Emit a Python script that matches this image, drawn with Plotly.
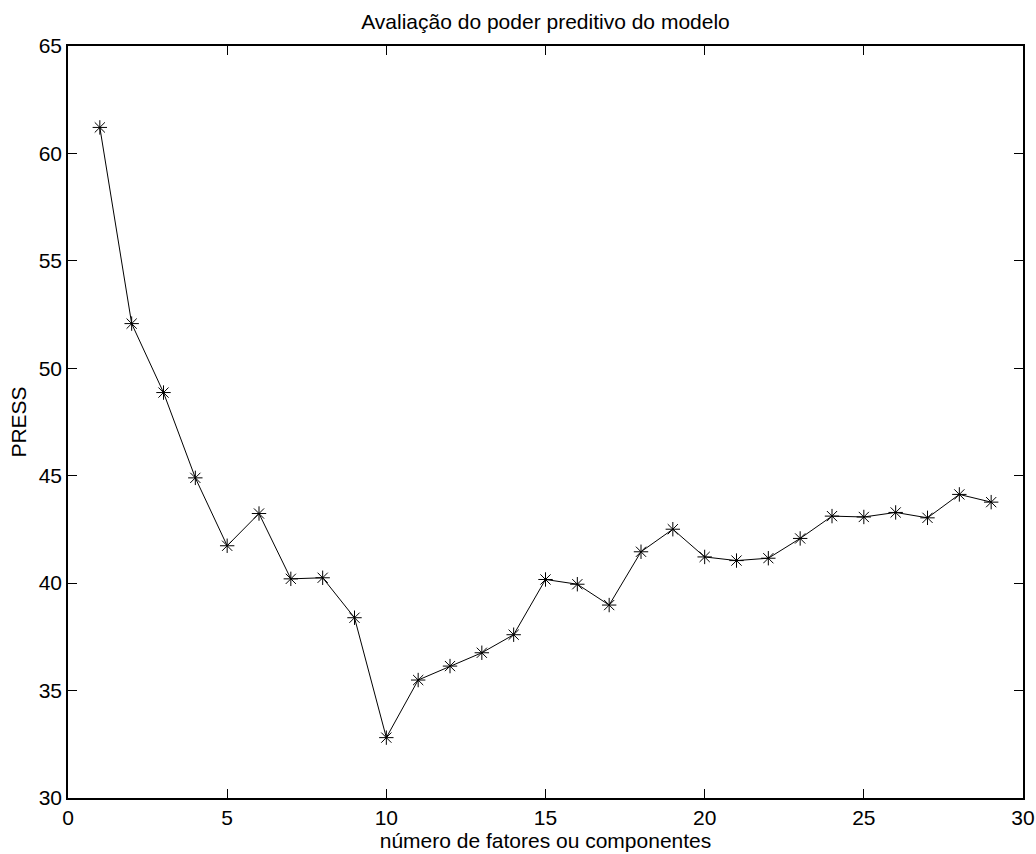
import plotly.graph_objects as go

factors = list(range(1, 30))
press = [61.21, 52.08, 48.87, 44.90, 41.74, 43.24, 40.20, 40.25, 38.39, 32.81,
         35.49, 36.14, 36.76, 37.60, 40.17, 39.95, 38.98, 41.46, 42.51, 41.22,
         41.05, 41.16, 42.08, 43.12, 43.08, 43.29, 43.04, 44.13, 43.77]

title_text = "Avaliação do poder preditivo do modelo"
x_title = "número de fatores ou componentes"
y_title = "PRESS"
x_ticks = [0, 5, 10, 15, 20, 25, 30]
y_ticks = [30, 35, 40, 45, 50, 55, 60, 65]

font_family = "Liberation Sans, Arial, Helvetica, sans-serif"
FS = 21

fig = go.Figure()
fig.add_trace(go.Scatter(
    x=factors, y=press, mode="lines+markers",
    line=dict(color="black", width=1),
    marker=dict(symbol="asterisk-open", size=12, color="black",
                line=dict(color="black", width=1)),
    showlegend=False,
))

axis_common = dict(
    showline=True, linecolor="black", linewidth=1.5, mirror="ticks",
    ticks="inside", ticklen=9, tickwidth=1, tickcolor="black",
    showgrid=False, zeroline=False, automargin=False,
    ticklabeloverflow="allow",
    tickfont=dict(family=font_family, size=FS, color="black"),
)

fig.update_layout(
    width=1036, height=854,
    paper_bgcolor="white", plot_bgcolor="white",
    margin=dict(l=68, r=13, t=45.5, b=56),
    title=dict(text=title_text, x=0.5, xref="paper", xanchor="center",
               y=0.9742, yref="container", yanchor="middle",
               font=dict(family=font_family, size=FS, color="black")),
    xaxis=dict(range=[0, 30], tickvals=x_ticks, ticklabelstandoff=0,
               title=dict(text=x_title, standoff=0,
                          font=dict(family=font_family, size=FS, color="black")),
               **axis_common),
    yaxis=dict(range=[30, 65], tickvals=y_ticks,
               title=dict(text=y_title, standoff=6,
                          font=dict(family=font_family, size=FS, color="black")),
               **axis_common),
)

fig.write_html(
    "out.html",
    config={"displayModeBar": False},
    post_script="document.body.style.margin='0';document.body.style.overflow='hidden';",
)
